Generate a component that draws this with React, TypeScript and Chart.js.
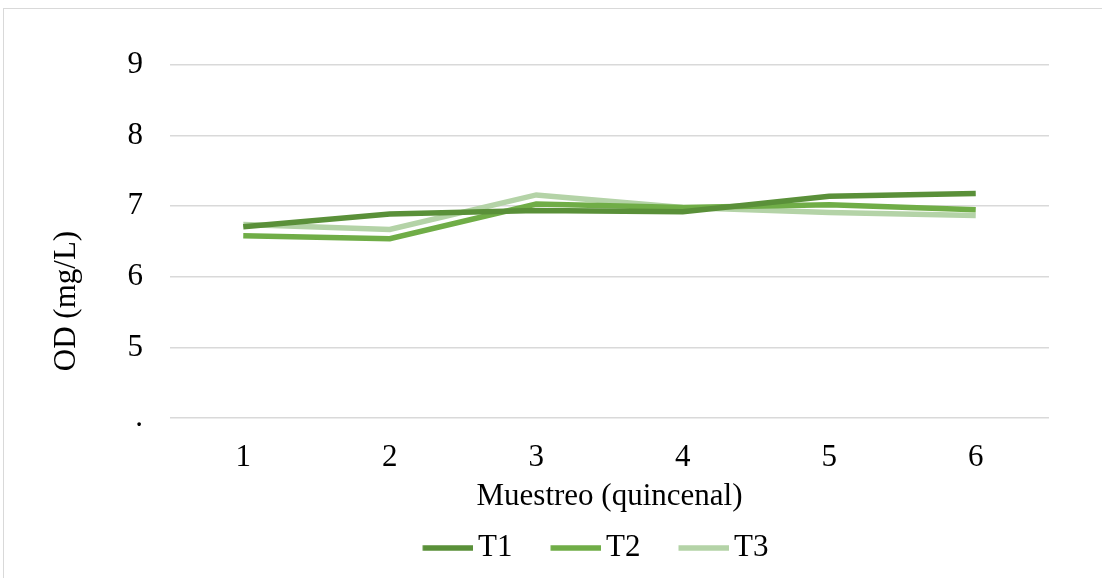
import React, { useEffect, useRef } from "react";
import { Chart, registerables } from "chart.js";

Chart.register(...registerables);

const categories = ["1", "2", "3", "4", "5", "6"];
const t1Values = [6.71, 6.89, 6.94, 6.92, 7.14, 7.18];
const t2Values = [6.58, 6.54, 7.03, 6.98, 7.02, 6.95];
const t3Values = [6.74, 6.67, 7.16, 6.98, 6.91, 6.87];
const seriesNames = ["T1", "T2", "T3"];
const seriesColors = ["#5a9039", "#70ad47", "#b4d3a7"];
const yTitle = "OD (mg/L)";
const xTitle = "Muestreo (quincenal)";

const FONT = "'Liberation Serif', 'Times New Roman', serif";
const FS = 31;
const LINE_W = 5.5;

const yTitlePlugin = {
  id: "yTitlePlugin",
  afterDraw(chart: any) {
    const ctx = chart.ctx;
    ctx.save();
    ctx.translate(67, 301);
    ctx.rotate(-Math.PI / 2);
    ctx.font = `${FS}px ${FONT}`;
    ctx.fillStyle = "#000";
    ctx.textAlign = "center";
    ctx.textBaseline = "middle";
    ctx.fillText(yTitle, 0, 0);
    ctx.restore();
  },
};

const legendShiftPlugin = {
  id: "legendShiftPlugin",
  afterLayout(chart: any) {
    const lg = chart.legend;
    if (lg) {
      lg.left += 71;
      lg.right += 71;
    }
  },
};

function makeLegendLine(color: string) {
  const c = document.createElement("canvas");
  c.width = 61;
  c.height = 8;
  const g = c.getContext("2d")!;
  g.fillStyle = color;
  g.fillRect(10.5, (8 - LINE_W) / 2, 50.5, LINE_W);
  return c;
}

export default function App() {
  const ref = useRef<HTMLCanvasElement>(null);
  useEffect(() => {
    if (!ref.current) return;
    const values = [t1Values, t2Values, t3Values];
    const chart = new Chart(ref.current, {
      type: "line",
      data: {
        labels: categories,
        datasets: values.map((v, i) => ({
          label: seriesNames[i],
          data: v,
          borderColor: seriesColors[i],
          backgroundColor: seriesColors[i],
          borderWidth: LINE_W,
          pointRadius: 0,
          pointStyle: makeLegendLine(seriesColors[i]) as any,
          tension: 0,
        })),
      },
      options: {
        responsive: false,
        animation: false,
        layout: { padding: { left: 0, right: 53, top: 65, bottom: 4.5 } },
        plugins: {
          legend: {
            position: "bottom",
            labels: {
              usePointStyle: true,
              pointStyleWidth: 40,
              padding: 38,
              color: "#000",
              font: { family: FONT, size: FS },
            },
          },
          tooltip: { enabled: false },
        },
        scales: {
          x: {
            offset: true,
            afterFit(scale: any) {
              scale.height = 76.5;
            },
            grid: { display: false, drawTicks: false },
            border: { display: false },
            ticks: { color: "#000", font: { family: FONT, size: FS }, padding: 21.5 },
            title: {
              display: true,
              text: xTitle,
              color: "#000",
              font: { family: FONT, size: FS },
              padding: { top: 0, bottom: -21 },
            },
          },
          y: {
            min: 4,
            max: 9,
            afterFit(scale: any) {
              scale.width = 170;
            },
            grid: { color: "#d9d9d9", lineWidth: 1.5, drawTicks: false },
            border: { display: false },
            ticks: {
              stepSize: 1,
              padding: 27,
              color: "#000",
              font: { family: FONT, size: FS },
              callback: (v: any) => (v === 4 ? "." : String(v)),
            },
          },
        },
      },
      plugins: [yTitlePlugin, legendShiftPlugin],
    });
    return () => chart.destroy();
  }, []);

  return (
    <div style={{ position: "fixed", left: 0, top: 0, width: 1102, height: 578, background: "#fff" }}>
      <div
        style={{
          position: "absolute",
          left: 3,
          top: 8,
          width: 1120,
          height: 600,
          border: "1px solid #d9d9d9",
        }}
      />
      <canvas ref={ref} width={1102} height={578} style={{ position: "absolute", left: 0, top: 0 }} />
    </div>
  );
}
